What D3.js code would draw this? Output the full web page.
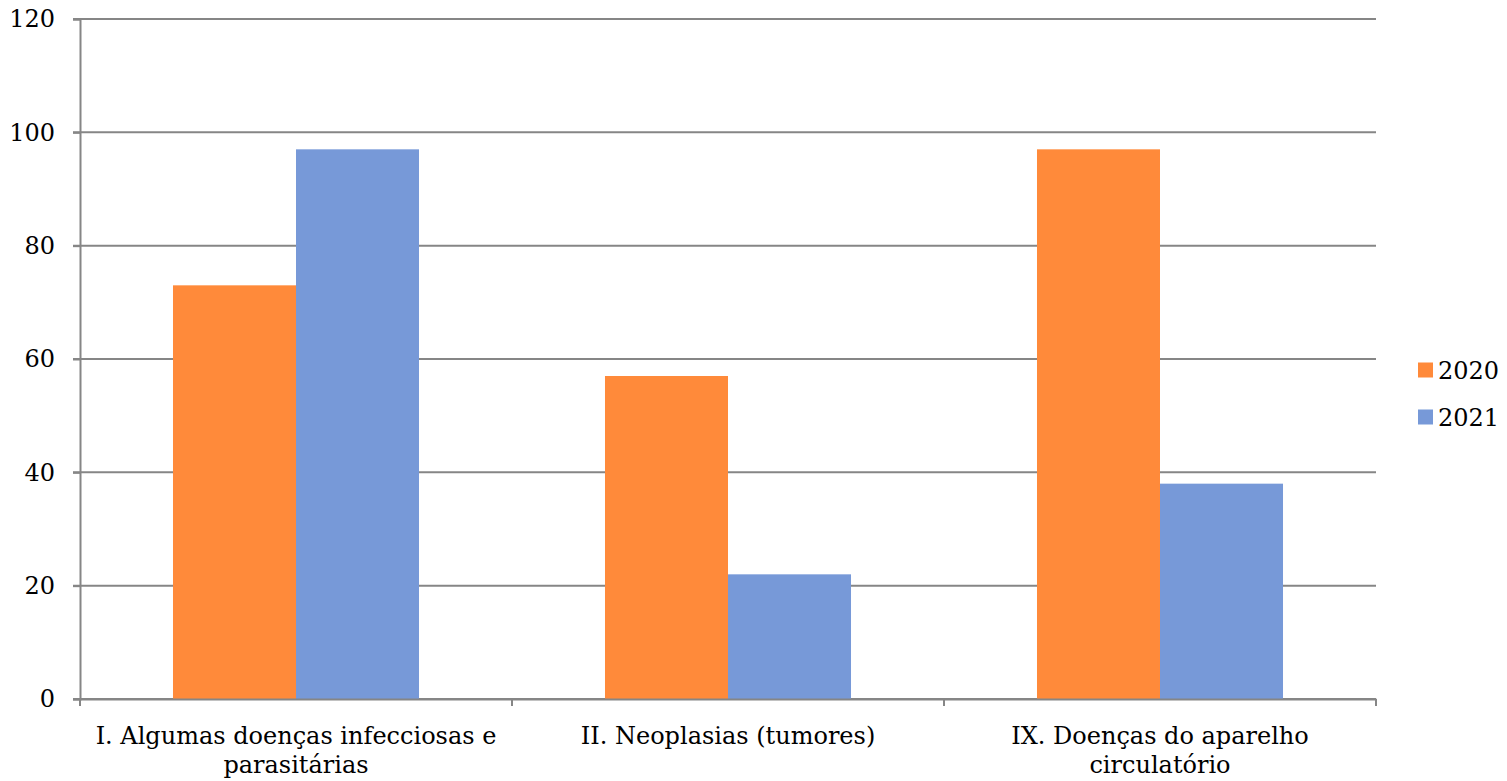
<!DOCTYPE html>
<html>
<head>
<meta charset="utf-8">
<script src="https://cdn.jsdelivr.net/npm/d3@7"></script>
<style>
  body { margin: 0; background: #fff; }
  text { font-family: "DejaVu Serif", serif; fill: #000; }
</style>
</head>
<body>
<div id="container"></div>
<script>
/* DATA */
const categories = ["I. Algumas doenças infecciosas e parasitárias", "II. Neoplasias (tumores)", "IX. Doenças do aparelho circulatório"]
const categoryLines = [["I. Algumas doenças infecciosas e", "parasitárias"], ["II. Neoplasias (tumores)"], ["IX. Doenças do aparelho", "circulatório"]]
const seriesNames = ["2020", "2021"]
const values2020 = [73, 57, 97]
const values2021 = [97, 22, 38]
const yTicks = [0, 20, 40, 60, 80, 100, 120]
const colors = ["#FF8A3A", "#7799D8"]

/* CONSTANTS AND GLOBALS */
const W = 1507, H = 781
const margin = {top: 19, right: 131, bottom: 82, left: 80}
const width = W - margin.left - margin.right,
      height = H - margin.top - margin.bottom
const fontSize = 24

const data = categories.map((c, i) => ({cat: c, vals: [values2020[i], values2021[i]]}))

// scales
const xScale = d3.scaleBand()
  .domain(categories)
  .range([0, width])
  .padding(0)

const xInner = d3.scaleBand()
  .domain(seriesNames)
  .range([0, xScale.bandwidth()])
  .paddingInner(0)
  .paddingOuter(0.756)

const yScale = d3.scaleLinear()
  .domain([0, 120])
  .range([height, 0])

const svg = d3.select("#container")
  .append("svg")
   .attr("width", W)
   .attr("height", H)

const g = svg.append("g")
   .attr("transform", "translate(" + margin.left + "," + margin.top + ")")

// gridlines
g.append("g")
  .selectAll("line")
  .data(yTicks)
  .join("line")
   .attr("x1", -7)
   .attr("x2", width)
   .attr("y1", d => yScale(d))
   .attr("y2", d => yScale(d))
   .attr("stroke", "#868686")
   .attr("stroke-width", 2)

// bars
g.append("g")
  .selectAll("g")
  .data(data)
  .join("g")
   .attr("transform", d => "translate(" + xScale(d.cat) + ",0)")
  .selectAll("rect")
  .data(d => d.vals.map((v, j) => ({key: seriesNames[j], v: v, j: j})))
  .join("rect")
   .attr("x", d => xInner(d.key))
   .attr("y", d => yScale(d.v))
   .attr("width", xInner.bandwidth())
   .attr("height", d => height - yScale(d.v))
   .attr("fill", d => colors[d.j])

// y axis
const yAxis = g.append("g")
  .call(d3.axisLeft(yScale).tickValues(yTicks).tickSize(7).tickPadding(18))
yAxis.select(".domain").attr("stroke", "#868686").attr("stroke-width", 2)
yAxis.selectAll(".tick line").attr("stroke", "#868686").attr("stroke-width", 2)
yAxis.selectAll(".tick text").attr("font-size", fontSize).attr("font-family", "DejaVu Serif").attr("fill", "#000")

// x axis
const xAxis = g.append("g")
  .attr("transform", "translate(0," + height + ")")
  .call(d3.axisBottom(xScale).tickValues([]).tickSizeOuter(0))
xAxis.select(".domain").attr("stroke", "#868686").attr("stroke-width", 2)

// category boundary ticks
const bounds = [0].concat(categories.map(c => xScale(c) + xScale.bandwidth()))
xAxis.selectAll("line.bound")
  .data(bounds)
  .join("line")
   .attr("class", "bound")
   .attr("x1", d => d).attr("x2", d => d)
   .attr("y1", 0).attr("y2", 7)
   .attr("stroke", "#868686")
   .attr("stroke-width", 2)

// category labels
xAxis.selectAll("text.cat")
  .data(categories)
  .join("text")
   .attr("class", "cat")
   .attr("text-anchor", "middle")
   .attr("font-size", fontSize)
   .attr("x", d => xScale(d) + xScale.bandwidth() / 2)
   .attr("y", 45)
  .selectAll("tspan")
  .data((d, i) => categoryLines[i])
  .join("tspan")
   .attr("x", function() { return d3.select(this.parentNode).attr("x") })
   .attr("dy", (d, i) => i === 0 ? 0 : 29)
   .text(d => d)

// legend
const legend = svg.append("g")
  .attr("transform", "translate(1418,0)")
const li = legend.selectAll("g")
  .data(seriesNames)
  .join("g")
   .attr("transform", (d, i) => "translate(0," + (370 + i * 47) + ")")
li.append("rect")
  .attr("x", 0).attr("y", -7.5)
  .attr("width", 15).attr("height", 15)
  .attr("fill", (d, i) => colors[i])
li.append("text")
  .attr("x", 20)
  .attr("dy", "0.36em")
  .attr("font-size", fontSize)
  .text(d => d)
</script>
</body>
</html>
